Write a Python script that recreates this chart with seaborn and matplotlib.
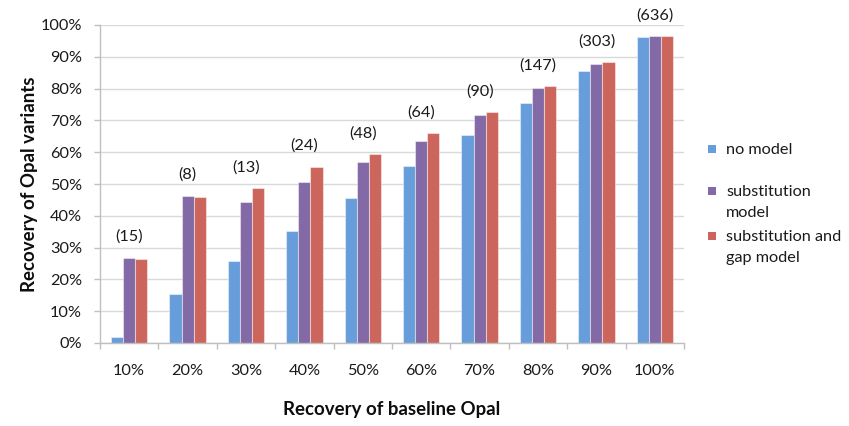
import matplotlib
matplotlib.use("Agg")
import matplotlib.pyplot as plt
from matplotlib.patches import Rectangle
from matplotlib.ticker import FixedLocator, PercentFormatter
import pandas as pd
import seaborn as sns

# Recovery bins of the baseline aligner and the number of variants in each bin
bins = ["10%", "20%", "30%", "40%", "50%", "60%", "70%", "80%", "90%", "100%"]
counts = [15, 8, 13, 24, 48, 64, 90, 147, 303, 636]

# Recovery (%) of variants for each model
no_model = [1.9, 15.3, 25.8, 35.3, 45.5, 55.6, 65.4, 75.4, 85.6, 96.3]
substitution = [26.8, 46.3, 44.2, 50.7, 56.9, 63.5, 71.7, 80.2, 87.7, 96.4]
substitution_gap = [26.3, 45.8, 48.6, 55.4, 59.3, 66.0, 72.6, 80.8, 88.4, 96.4]

series_names = ["no model", "substitution model", "substitution and gap model"]
legend_labels = ["no model", "substitution\nmodel", "substitution and\ngap model"]
colors = ["#669DDA", "#8369A6", "#CC655C"]

df = pd.DataFrame({
    "bin": bins * 3,
    "recovery": no_model + substitution + substitution_gap,
    "model": [series_names[0]] * len(bins) + [series_names[1]] * len(bins)
             + [series_names[2]] * len(bins),
})

sns.set_theme(style="white")
plt.rcParams["font.family"] = ["Lato", "DejaVu Sans"]

TICK_FS = 11.7
LABEL_FS = 13.4

fig = plt.figure(figsize=(8.49, 4.26), dpi=100)
ax = fig.add_axes([100 / 849, 1 - 343 / 426, 584 / 849, 318 / 426])

sns.barplot(data=df, x="bin", y="recovery", hue="model", order=bins,
            hue_order=series_names, palette=colors, saturation=1,
            width=0.62, ax=ax, legend=False,
            edgecolor=(1, 1, 1, 0.45), linewidth=0.8)

ax.set_ylim(0, 100)
ax.set_xlim(-0.5, len(bins) - 0.5)
ax.yaxis.set_major_locator(FixedLocator(range(0, 101, 10)))
ax.yaxis.set_major_formatter(PercentFormatter(decimals=0))
ax.grid(axis="y", color="#D9D9D9", linewidth=1.0)
ax.set_axisbelow(True)

for side in ["top", "right"]:
    ax.spines[side].set_visible(False)
for side in ["left", "bottom"]:
    ax.spines[side].set_color("#BFBFBF")
    ax.spines[side].set_linewidth(1.0)

# category separators as small ticks below the x axis
ax.xaxis.set_minor_locator(FixedLocator([i - 0.5 for i in range(len(bins) + 1)]))
ax.tick_params(axis="x", which="major", length=0, pad=15, labelsize=TICK_FS,
               labelcolor="#1a1a1a")
ax.tick_params(axis="x", which="minor", bottom=True, length=4, width=1,
               color="#BFBFBF")
ax.tick_params(axis="y", which="major", left=True, length=4, width=1,
               color="#BFBFBF", pad=9, labelsize=TICK_FS, labelcolor="#1a1a1a")

ax.set_xlabel("Recovery of baseline Opal", fontsize=LABEL_FS, fontweight="bold",
              labelpad=17, color="#0d0d0d")
ax.set_ylabel("Recovery of Opal variants", fontsize=LABEL_FS, fontweight="bold",
              labelpad=2, color="#0d0d0d")

# variant counts above each group
for i, n in enumerate(counts):
    top = max(no_model[i], substitution[i], substitution_gap[i])
    ax.annotate(f"({n})", xy=(i, top), xytext=(0, 15), textcoords="offset points",
                ha="center", va="center", fontsize=TICK_FS, color="#1a1a1a")

# legend drawn as swatches and wrapped labels to the right of the plot
legend_y = [149, 191, 236]
for label, color, y in zip(legend_labels, colors, legend_y):
    fig.patches.append(Rectangle(((712 - 4) / 849, 1 - (y + 4) / 426), 8 / 849, 8 / 426,
                                 transform=fig.transFigure, facecolor=color,
                                 edgecolor="none", figure=fig))
    fig.text(726 / 849, 1 - (y - 6) / 426, label, ha="left", va="top",
             fontsize=TICK_FS, color="#1a1a1a", linespacing=1.6)

fig.savefig("out.png", dpi=100)
